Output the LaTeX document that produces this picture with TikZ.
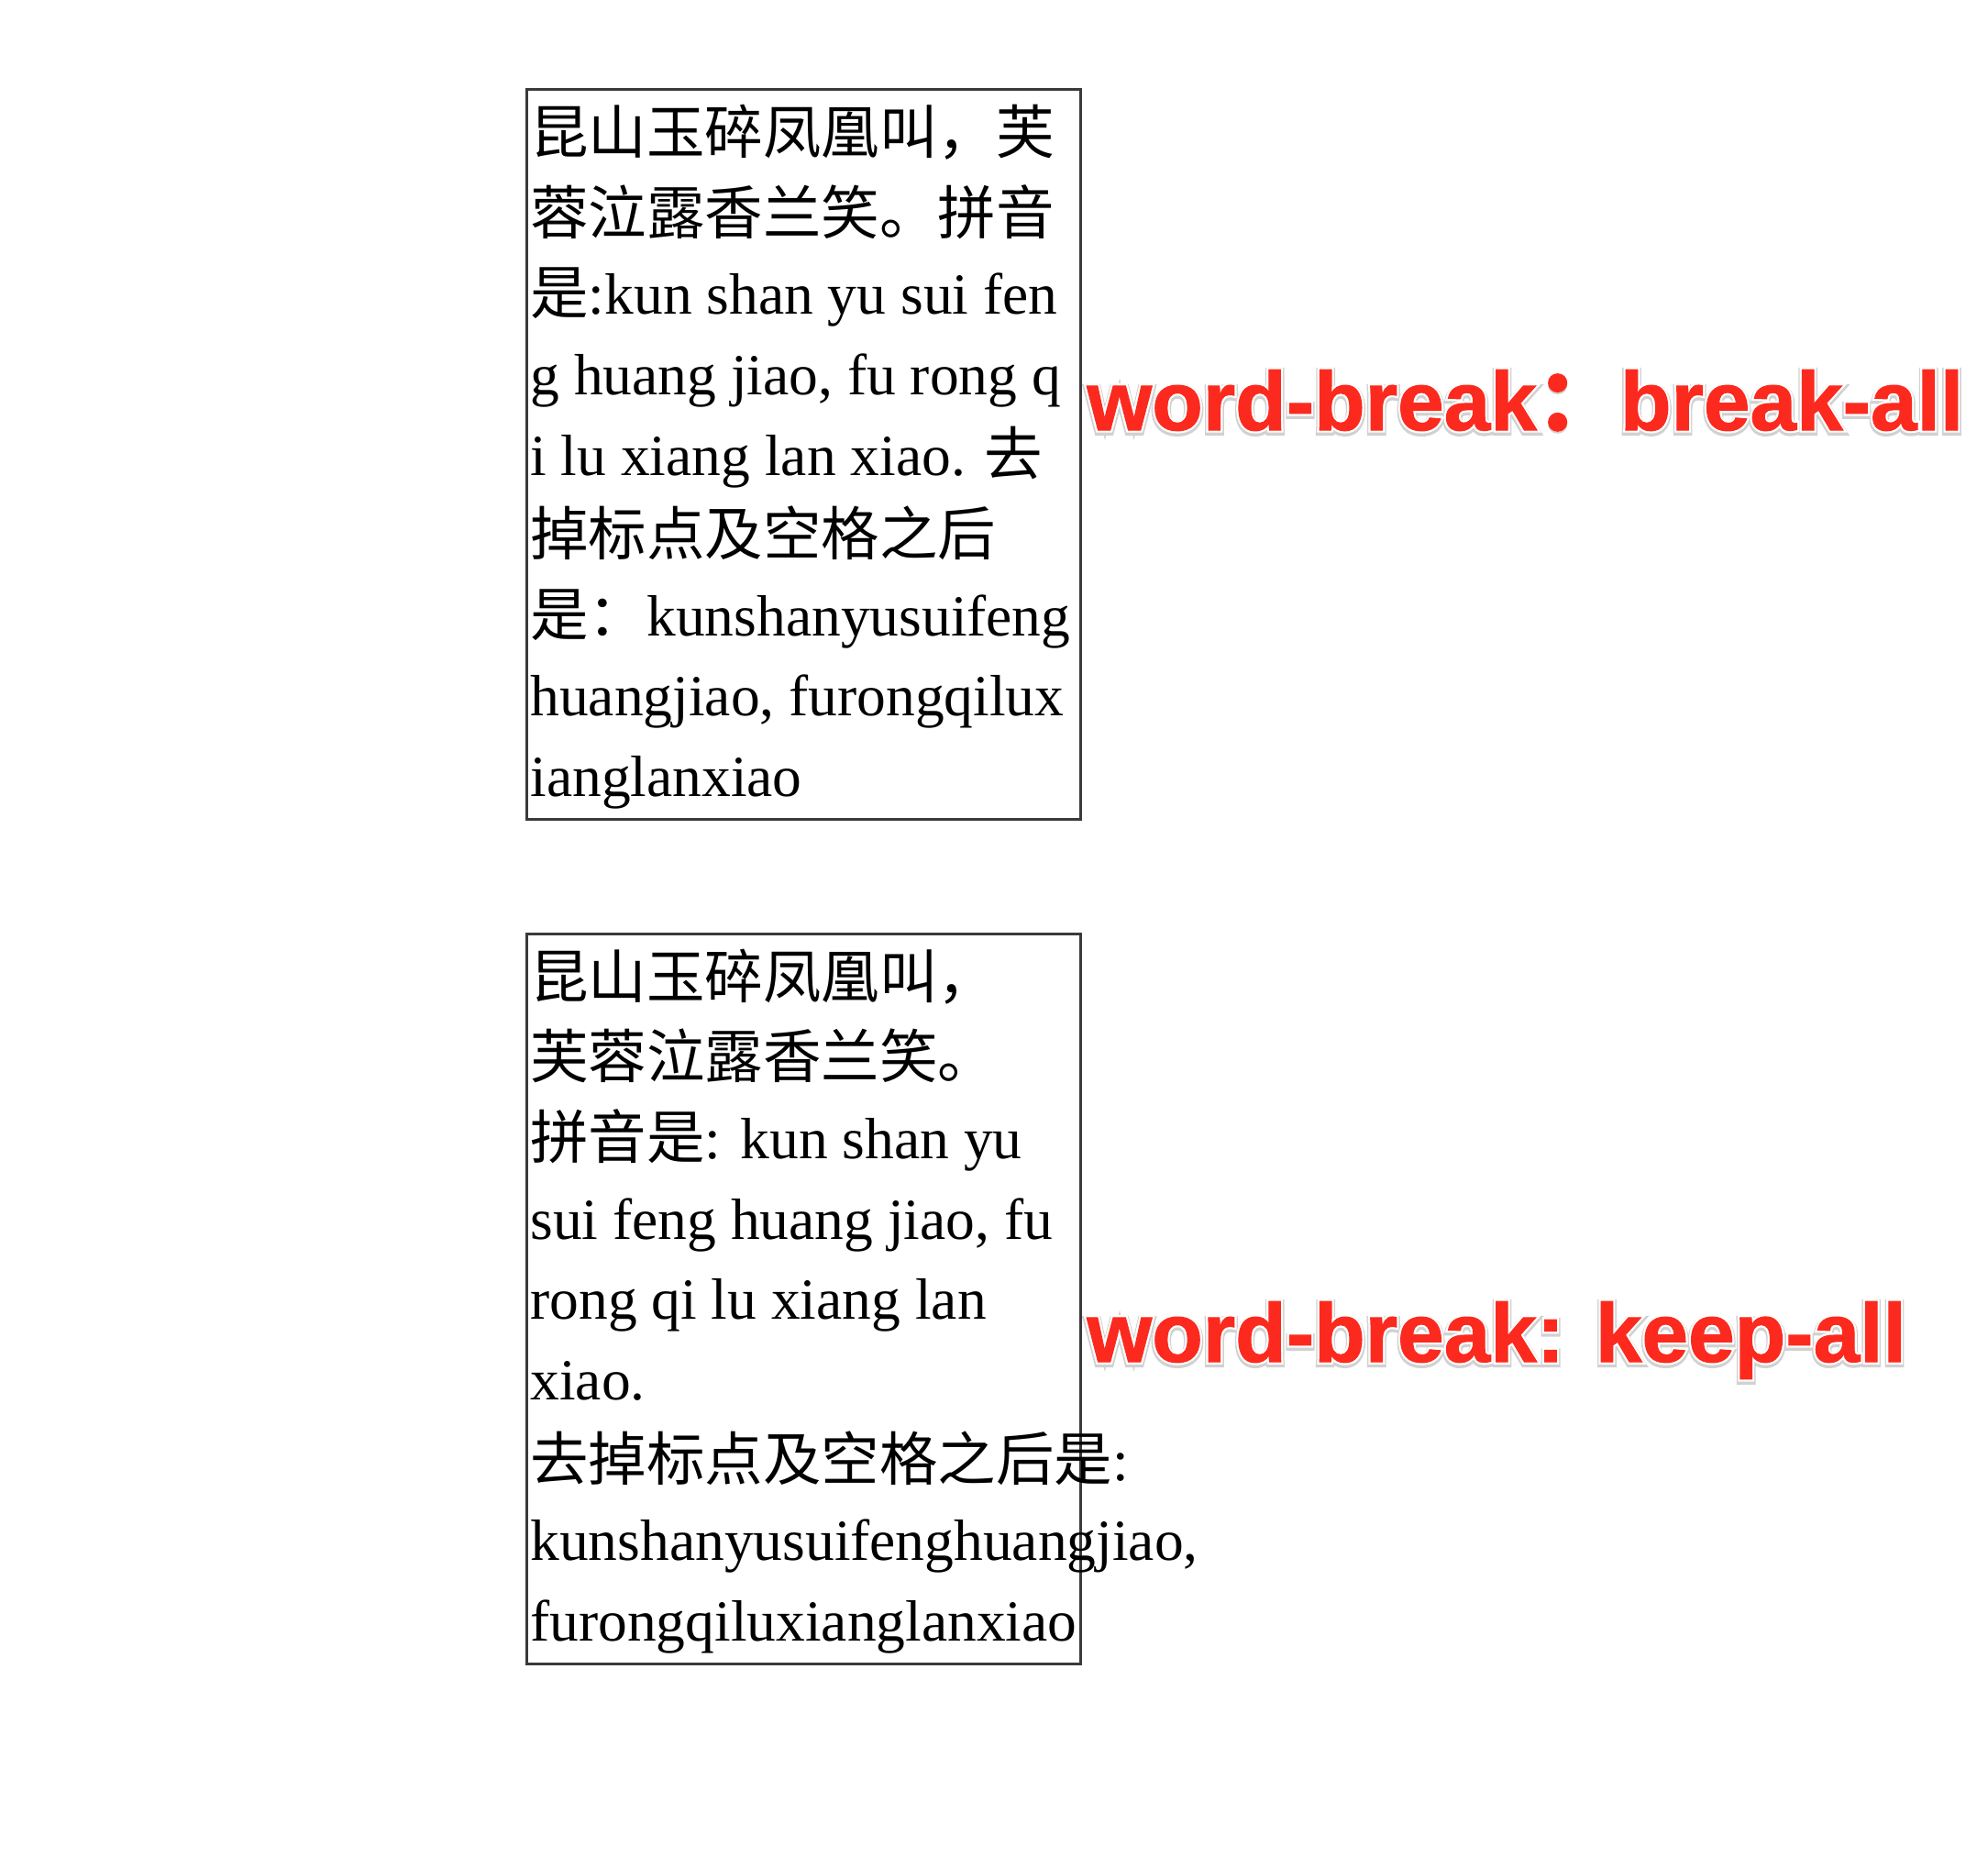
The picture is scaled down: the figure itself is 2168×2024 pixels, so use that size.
\documentclass[tikz,border=0pt]{standalone}
\usepackage{fontspec}
\setmainfont{Liberation Serif}
\newfontfamily\cjk{Noto Sans CJK SC}
\newfontfamily\lblfont{Liberation Sans}
\newfontfamily\lblcjk[FakeBold=2]{Noto Sans CJK SC}
\definecolor{wbred}{RGB}{252,42,30}
\definecolor{boxgray}{RGB}{58,58,58}
\newcommand\halotext[1]{%
  \rlap{\raisebox{-1pt}{\color{black!18}\addfontfeature{FakeBold=9}#1}}%
  \rlap{\color{white}\addfontfeature{FakeBold=6}#1}%
  \textcolor{wbred}{\addfontfeature{FakeBold=1.2}#1}}
\tikzset{
  line/.style={anchor=base west, inner sep=0pt, font=\fontsize{31.75pt}{38pt}\selectfont},
  frame/.style={draw=boxgray, line width=1.5pt},
  wblabel/.style={anchor=base west, inner sep=0pt, font=\lblfont\bfseries\fontsize{45.5pt}{50pt}\selectfont}
}
\begin{document}
\begin{tikzpicture}[x=0.5pt,y=-0.5pt]
\useasboundingbox (0,0) rectangle (2168,2024);
% box 1 (break-all)
\draw[frame] (574,97) rectangle (1178,893);
\node[line] (a1) at (578,167.3) {\cjk 昆山玉碎凤凰叫，芙};
\node[line] (a2) at (578,255.0) {\cjk 蓉泣露香兰笑。拼音};
\node[line] (a3) at (578,342.6) {{\cjk 是}:kun shan yu sui fen};
\node[line] (a4) at (578,430.3) {g huang jiao, fu rong q};
\node[line] (a5) at (578,518.0) {i lu xiang lan xiao. {\cjk 去}};
\node[line] (a6) at (578,605.6) {\cjk 掉标点及空格之后};
\node[line] (a7) at (578,693.3) {{\cjk 是：}kunshanyusuifeng};
\node[line] (a8) at (578,780.9) {huangjiao, furongqilux};
\node[line] (a9) at (578,868.6) {ianglanxiao};
% box 2 (keep-all)
\draw[frame] (574,1018) rectangle (1178,1814);
\node[line] (b1) at (578,1088.2) {\cjk 昆山玉碎凤凰叫，};
\node[line] (b2) at (578,1175.9) {\cjk 芙蓉泣露香兰笑。};
\node[line] (b3) at (578,1263.5) {{\cjk 拼音是}: kun shan yu};
\node[line] (b4) at (578,1351.2) {sui feng huang jiao, fu};
\node[line] (b5) at (578,1438.9) {rong qi lu xiang lan};
\node[line] (b6) at (578,1526.5) {xiao.};
\node[line] (b7) at (578,1614.2) {{\cjk 去掉标点及空格之后是}:};
\node[line] (b8) at (578,1701.8) {kunshanyusuifenghuangjiao,};
\node[line] (b9) at (578,1789.5) {furongqiluxianglanxiao};
% labels
\node[wblabel] (l1) at (1185,469) {\halotext{word-break{\lblcjk ：}break-all}};
\node[wblabel] (l2) at (1185,1485) {\halotext{word-break: keep-all}};
\end{tikzpicture}
\end{document}
